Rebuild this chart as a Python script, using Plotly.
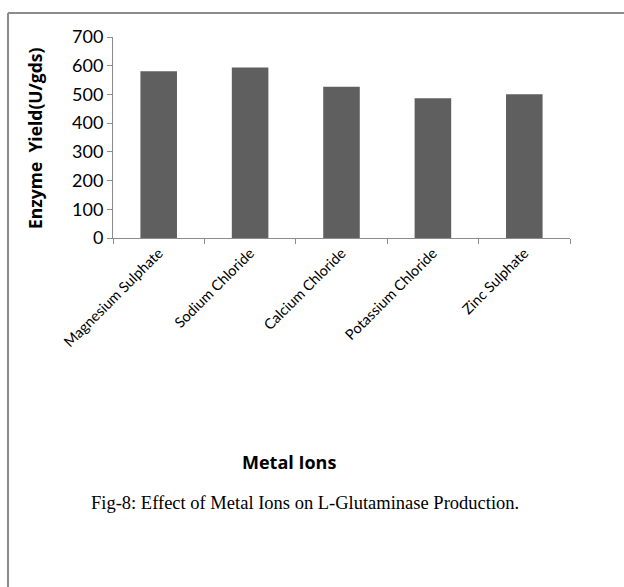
import plotly.graph_objects as go

categories = ["Magnesium Sulphate", "Sodium Chloride", "Calcium Chloride", "Potassium Chloride", "Zinc Sulphate"]
yields = [581, 594, 527, 487, 501]
y_ticks = [0, 100, 200, 300, 400, 500, 600, 700]

W, H = 624, 587
L, R, T, B = 113, 570, 37, 238
pw, ph = R - L, B - T

fig = go.Figure(go.Bar(x=categories, y=yields, marker=dict(color="#5f5f5f", line=dict(width=0)), width=0.4))

def px_x(px):
    return (px - L) / pw

def px_y(py):
    return (B - py) / ph

fig.update_layout(
    width=W, height=H,
    margin=dict(l=L, r=W - R, t=T, b=H - B),
    plot_bgcolor="white", paper_bgcolor="white",
    showlegend=False,
    font=dict(family="Lato, Open Sans, sans-serif", color="black"),
    xaxis=dict(
        showline=True, linecolor="#8c8c8c", linewidth=1,
        ticks="outside", ticklen=5, tickcolor="#8c8c8c", tickson="boundaries",
        tickangle=-45, tickfont=dict(size=14.5, family="Lato, Open Sans, sans-serif"),
        showgrid=False,
    ),
    yaxis=dict(
        range=[0, 700], tickvals=y_ticks, showline=True, linecolor="#8c8c8c", linewidth=1,
        ticks="outside", ticklen=5, tickcolor="#8c8c8c", showgrid=False, zeroline=False,
        tickfont=dict(size=18, family="Lato, Open Sans, sans-serif"),
    ),
    annotations=[
        dict(text="<b>Enzyme  Yield(U/gds)</b>", xref="paper", yref="paper", x=px_x(35), y=px_y(139),
             textangle=-90, showarrow=False, font=dict(size=17.5, family="Open Sans, sans-serif"),
             xanchor="center", yanchor="middle"),
        dict(text="<b>Metal Ions</b>", xref="paper", yref="paper", x=px_x(289), y=px_y(462),
             showarrow=False, font=dict(size=18, family="Open Sans, sans-serif"),
             xanchor="center", yanchor="middle"),
        dict(text="Fig-8: Effect of Metal Ions on L-Glutaminase Production.", xref="paper", yref="paper",
             x=px_x(305), y=px_y(503), showarrow=False,
             font=dict(size=18.5, family="Liberation Serif, serif"), xanchor="center", yanchor="middle"),
    ],
    shapes=[
        dict(type="line", xref="paper", yref="paper", x0=px_x(8), x1=px_x(630), y0=px_y(13), y1=px_y(13),
             line=dict(color="#8c8c8c", width=2)),
        dict(type="line", xref="paper", yref="paper", x0=px_x(8), x1=px_x(8), y0=px_y(13), y1=px_y(600),
             line=dict(color="#8c8c8c", width=2)),
    ],
)

fig.write_html("out.html", config={"displayModeBar": False},
               post_script="document.body.style.margin='0';document.body.style.overflow='hidden';")
